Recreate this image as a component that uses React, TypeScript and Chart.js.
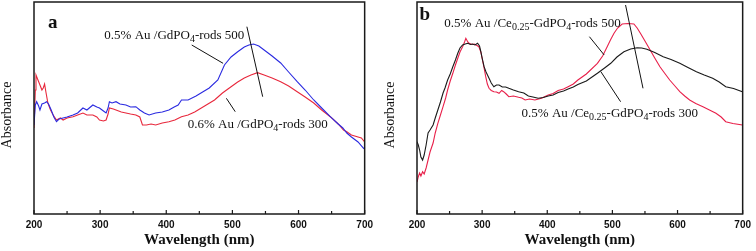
import React, { useEffect, useRef } from "react";
import { Chart, registerables } from "chart.js";

Chart.register(...registerables);

// ---------------- data ----------------
const xTickValues = [200, 300, 400, 500, 600, 700];

// panel a : 0.5% Au /GdPO4-rods 500 (blue)
const panelA500: [number, number][] = [
  [200, 89], [202, 109], [204, 112.3], [207, 108], [209, 104], [212, 110], [216, 111], [219, 112.3],
  [222, 110], [226, 104], [230, 97], [234, 92.3], [238, 95], [244, 96], [250, 97], [259, 99],
  [266, 101], [274, 106], [280, 104], [289, 109], [295, 107], [299, 106], [305, 103], [309, 101],
  [312, 106], [314, 112.3], [318, 111], [324, 112.3], [330, 110], [339, 109], [346, 107], [354, 107.3],
  [360, 104], [367, 101], [374, 99], [384, 101], [394, 102], [404, 104], [412, 107], [418, 109],
  [423, 114], [433, 114], [445, 118], [455, 122], [465, 126], [478, 134], [488, 149], [498, 157],
  [508, 162.3], [518, 167], [525, 169], [532, 170], [540, 168], [550, 163], [560, 158], [573, 151],
  [585, 142], [598, 132.3], [610, 124], [623, 114], [635, 106], [648, 97.3], [660, 90], [667, 86],
  [673, 81], [680, 77], [690, 72], [698, 66], [700, 65],
];

// panel a : 0.6% Au /GdPO4-rods 300 (red)
const panelA300: [number, number][] = [
  [200, 86], [202, 124], [203, 139], [206, 134], [209, 129], [212, 124], [214, 126], [216, 130],
  [218, 122], [221, 111], [225, 104], [229, 99], [234, 94], [240, 96], [244, 94], [250, 96],
  [259, 97.3], [266, 99], [274, 101], [280, 99], [289, 99], [295, 97], [299, 94], [305, 93],
  [309, 94], [312, 100], [314, 106], [320, 105], [324, 104], [332, 102], [339, 101], [346, 100],
  [354, 99], [360, 97], [364, 89], [370, 89], [377, 90], [384, 89], [394, 91], [404, 92.3],
  [413, 94], [423, 97.3], [433, 99], [443, 102], [453, 106], [463, 110], [473, 114], [485, 121],
  [498, 127.3], [508, 132], [518, 136], [528, 139], [538, 141.3], [548, 139], [560, 136], [573, 132.3],
  [585, 128], [598, 122.3], [610, 117], [623, 111], [635, 104], [648, 97.3], [660, 90], [668, 84],
  [673, 82.3], [680, 79], [690, 77], [695, 76], [700, 72],
];

// panel b : 0.5% Au /Ce0.25-GdPO4-rods 500 (red)
const panelB500: [number, number][] = [
  [200, 32], [202, 37.3], [204, 41], [206, 38], [208.6, 42.3], [211, 40], [214, 46], [217, 54],
  [220, 62], [224.7, 71], [228, 81], [232, 90.7], [236, 99], [240, 107.3], [244, 116], [247, 124],
  [251, 133], [255, 140.7], [259, 149], [262.6, 155.7], [266, 162], [270, 167.3], [273, 172], [275, 175.7],
  [278, 172], [280, 170.7], [284, 169.5], [288, 170], [292, 168.5], [295, 167.3], [298, 162], [300.5, 154],
  [303, 146], [305.5, 137.3], [308, 130], [310.6, 125.7], [314, 123.5], [318, 122.3], [322, 122], [326, 120.7],
  [330, 123.5], [333, 122.3], [337, 120], [341, 117.3], [348, 118], [356, 116.7], [361, 116], [366, 114],
  [373, 115], [381, 114], [391, 115.7], [401.5, 119], [409, 120.5], [416.7, 123.5], [425, 125], [432, 127.3],
  [440, 130], [447, 134], [460, 140], [477, 150.7], [485, 158], [492, 167.3], [497, 174], [502.5, 180.7],
  [508, 186], [515, 190], [524, 190.5], [533, 190], [538, 186], [543, 180.7], [550, 173], [558, 164],
  [565, 156], [573, 147.3], [580, 141], [588, 134], [596, 128], [603.5, 122.3], [611, 118], [618.6, 114],
  [628, 110.5], [639, 107.3], [649, 104], [659, 100.7], [667, 97], [674, 92.3], [685, 90.5], [699.5, 89],
  [700, 88.5],
];

// panel b : 0.5% Au /Ce0.25-GdPO4-rods 300 (black)
const panelB300: [number, number][] = [
  [200, 72.3], [202, 69], [204, 64], [206, 57], [208.6, 54], [211, 59], [214, 69], [217, 81],
  [220, 84], [224.7, 89], [228, 96], [232, 104], [236, 112], [240, 121], [243, 126], [247, 134],
  [251, 140], [255, 147.3], [259, 154], [262.6, 160.7], [266, 166], [270, 169], [274, 170], [278, 170.7],
  [282, 169.5], [285, 170], [289, 169], [293, 170.7], [296, 168], [298, 162.3], [300, 156], [303, 147.3],
  [306, 142], [310.6, 135.7], [314, 131], [318, 127.3], [322, 129], [326, 129], [331, 127], [336, 127],
  [341, 125.7], [348, 124], [356, 122.3], [364, 121], [371, 118], [378, 117], [386, 115.7], [394, 116.5],
  [401.5, 118], [409, 119], [416.7, 121.5], [425, 123], [432, 125], [440, 127], [447, 129.5], [460, 133],
  [477, 140.7], [488, 146], [497.5, 150.7], [507, 157], [517.7, 162.3], [528, 165], [538, 166.3], [545, 166],
  [553, 164.7], [565, 161.5], [578, 157.3], [590, 154.5], [603.5, 150.7], [616, 146.5], [629, 142.3], [641, 139],
  [654, 135.7], [664, 132], [674, 127.3], [686, 125.5], [699.5, 122.3], [700, 122],
];

// ---------------- labels / annotations ----------------
type Part = { t: string; sub?: boolean };
const labelA500: Part[] = [{ t: "0.5% Au /GdPO" }, { t: "4", sub: true }, { t: "-rods 500" }];
const labelA300: Part[] = [{ t: "0.6% Au /GdPO" }, { t: "4", sub: true }, { t: "-rods 300" }];
const labelB500: Part[] = [{ t: "0.5% Au /Ce" }, { t: "0.25", sub: true }, { t: "-GdPO" }, { t: "4", sub: true }, { t: "-rods 500" }];
const labelB300: Part[] = [{ t: "0.5% Au /Ce" }, { t: "0.25", sub: true }, { t: "-GdPO" }, { t: "4", sub: true }, { t: "-rods 300" }];
const yTitle = "Absorbance";
const xTitle = "Wavelength (nm)";

// annotation anchors in data units (wavelength, absorbance a.u.)
const annotA = {
  letter: "a",
  letterAt: [228.4, 191],
  yTitleAt: 99,
  labels: [
    { parts: labelA500, at: [306.3, 178] },
    { parts: labelA300, at: [432.5, 89] },
  ],
  lines: [
    [438.5, 169, 485.9, 150.7],
    [521.9, 187.3, 545.8, 117.3],
    [490.9, 115.7, 504.3, 102.3],
  ],
};
const annotB = {
  letter: "b",
  letterAt: [212, 199],
  yTitleAt: 99,
  labels: [
    { parts: labelB500, at: [242, 190] },
    { parts: labelB300, at: [360.6, 100] },
  ],
  lines: [
    [464.7, 177.3, 487.4, 159],
    [520.2, 209, 547, 125.7],
    [482.3, 142.3, 512.6, 112.3],
  ],
};

const SERIF = '"Liberation Serif", "Times New Roman", serif';

function drawRich(ctx: CanvasRenderingContext2D, parts: Part[], x: number, y: number) {
  let cx = x;
  for (const p of parts) {
    ctx.font = p.sub ? `10px ${SERIF}` : `13px ${SERIF}`;
    ctx.fillText(p.t, cx, p.sub ? y + 3.5 : y);
    cx += ctx.measureText(p.t).width;
  }
}

const decorPlugin = {
  id: "decor",
  afterDatasetsDraw(chart: any, _args: any, opts: any) {
    const { ctx, chartArea: ca, scales } = chart;
    const x = scales.x;
    const y = scales.y;
    ctx.save();
    // frame
    ctx.strokeStyle = "#1a1a1a";
    ctx.lineWidth = 1.5;
    ctx.strokeRect(ca.left, ca.top, ca.right - ca.left, ca.bottom - ca.top);
    // inward ticks
    ctx.lineWidth = 1.2;
    for (let v = 200; v <= 700; v += 50) {
      const px = x.getPixelForValue(v);
      const len = v % 100 === 0 ? 4 : 3;
      ctx.beginPath();
      ctx.moveTo(px, ca.bottom);
      ctx.lineTo(px, ca.bottom - len);
      ctx.stroke();
    }
    // annotation lines
    ctx.lineWidth = 1;
    ctx.strokeStyle = "#111";
    for (const l of opts.lines) {
      ctx.beginPath();
      ctx.moveTo(x.getPixelForValue(l[0]), y.getPixelForValue(l[1]));
      ctx.lineTo(x.getPixelForValue(l[2]), y.getPixelForValue(l[3]));
      ctx.stroke();
    }
    // labels
    ctx.fillStyle = "#111";
    ctx.textBaseline = "middle";
    ctx.textAlign = "left";
    for (const lb of opts.labels) {
      drawRich(ctx, lb.parts, x.getPixelForValue(lb.at[0]), y.getPixelForValue(lb.at[1]));
    }
    // panel letter
    ctx.font = `bold 19px ${SERIF}`;
    ctx.textAlign = "center";
    ctx.fillText(opts.letter, x.getPixelForValue(opts.letterAt[0]), y.getPixelForValue(opts.letterAt[1]));
    // y title
    ctx.save();
    ctx.translate(ca.left - 27, y.getPixelForValue(opts.yTitleAt));
    ctx.rotate(-Math.PI / 2);
    ctx.font = `14px ${SERIF}`;
    ctx.textAlign = "center";
    ctx.textBaseline = "middle";
    ctx.fillText(yTitle, 0, 0);
    ctx.restore();
    ctx.restore();
  },
};

type PanelProps = {
  series: { data: [number, number][]; color: string; label: string }[];
  annot: any;
  yWidth: number;
  padRight: number;
};

function Panel({ series, annot, yWidth, padRight }: PanelProps) {
  const ref = useRef<HTMLCanvasElement | null>(null);
  useEffect(() => {
    if (!ref.current) return;
    const chart = new Chart(ref.current, {
      type: "line",
      data: {
        datasets: series.map((s) => ({
          label: s.label,
          data: s.data.map(([a, b]) => ({ x: a, y: b })),
          borderColor: s.color,
          borderWidth: 1.1,
          pointRadius: 0,
          tension: 0,
          fill: false,
        })),
      },
      options: {
        responsive: false,
        animation: false,
        devicePixelRatio: 1,
        layout: { padding: { left: 0, right: padRight, top: 2, bottom: 0 } },
        plugins: {
          legend: { display: false },
          tooltip: { enabled: false },
          decor: annot,
        } as any,
        scales: {
          x: {
            type: "linear",
            min: 200,
            max: 700,
            afterBuildTicks: (scale: any) => {
              scale.ticks = xTickValues.map((v) => ({ value: v }));
            },
            ticks: {
              autoSkip: false,
              maxRotation: 0,
              padding: 5,
              color: "#111",
              font: { family: '"Liberation Sans", Arial, sans-serif', size: 10, weight: "bold" },
            },
            grid: { display: false, drawTicks: false },
            border: { display: false },
            title: {
              display: true,
              text: xTitle,
              color: "#111",
              padding: { top: 0, bottom: 2 },
              font: { family: SERIF, size: 15, weight: "bold" },
            },
            afterFit: (scale: any) => {
              scale.height = 37;
            },
          },
          y: {
            type: "linear",
            min: 0,
            max: 212,
            ticks: { display: false },
            grid: { display: false, drawTicks: false },
            border: { display: false },
            title: { display: false },
            afterFit: (scale: any) => {
              scale.width = yWidth;
            },
          },
        },
      },
      plugins: [decorPlugin],
    } as any);
    return () => chart.destroy();
  }, []);
  return <canvas ref={ref} width={378} height={251} style={{ display: "block", width: 378, height: 251 }} />;
}

export default function App() {
  return (
    <div style={{ position: "fixed", left: 0, top: 0, width: 756, height: 251, background: "#fff", display: "flex" }}>
      <Panel
        series={[
          { data: panelA500, color: "#2a2ae0", label: "0.5% Au /GdPO4-rods 500" },
          { data: panelA300, color: "#e8283c", label: "0.6% Au /GdPO4-rods 300" },
        ]}
        annot={annotA}
        yWidth={34}
        padRight={10}
      />
      <Panel
        series={[
          { data: panelB300, color: "#1a1a1a", label: "0.5% Au /Ce0.25-GdPO4-rods 300" },
          { data: panelB500, color: "#e8204a", label: "0.5% Au /Ce0.25-GdPO4-rods 500" },
        ]}
        annot={annotB}
        yWidth={39}
        padRight={9}
      />
    </div>
  );
}
